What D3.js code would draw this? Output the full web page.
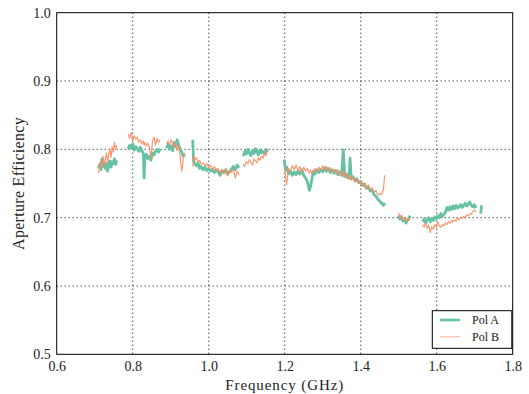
<!DOCTYPE html>
<html>
<head>
<meta charset="utf-8">
<script src="https://cdn.jsdelivr.net/npm/d3@7"></script>
<style>
  body { margin: 0; background: #fff; }
  text { font-family: "Liberation Serif", "DejaVu Serif", serif; fill: #222; }
</style>
</head>
<body>
<div id="chart"></div>
<script>
// frequency samples (GHz); a null in the series marks a gap between bands
const freq = [
  0.710,0.713,0.716,0.719,0.722,0.725,0.728,0.731,0.734,0.737,0.740,0.743,0.746,0.749,0.752,0.755,0.758, 0.770,
  0.788,0.792,0.796,0.800,0.804,0.808,0.812,0.816,0.820,0.824,0.828,0.830,0.832,0.836,0.840,0.844,0.848,0.852,0.856,0.860,0.864,0.868,0.872, 0.880,
  0.889,0.893,0.897,0.901,0.905,0.909,0.913,0.917,0.921,0.925,0.929,0.933,0.937, 0.950,
  0.958,0.960,0.964,0.968,0.972,0.976,0.980,0.985,0.990,0.995,1.000,1.005,1.010,1.015,1.020,1.025,1.030,1.035,1.040,1.045,1.050,1.055,1.060,1.065,1.070,1.075,1.080, 1.086,
  1.091,1.095,1.099,1.103,1.107,1.111,1.115,1.119,1.123,1.127,1.131,1.135,1.139,1.143,1.147,1.151,1.155, 1.180,
  1.199,1.202,1.205,1.210,1.215,1.220,1.225,1.230,1.235,1.240,
  1.245,1.250,1.255,1.260,1.265,1.268,1.272,1.276,1.280,1.285,
  1.290,1.295,1.300,1.305,1.310,1.315,1.320,1.325,1.330,1.335,
  1.340,1.345,1.350,1.354,1.358,1.362,1.366,1.370,1.372,1.375,
  1.380,1.385,1.390,1.395,1.400,1.405,1.410,1.415,1.420,1.425,
  1.430,1.435,1.440,1.445,1.450,1.455,1.460,1.463, 1.480,
  1.499,1.503,1.507,1.511,1.515,1.519,1.523,1.527,1.530, 1.545,
  1.563,1.567,1.571,1.575,1.579,1.583,1.587,1.591,1.595,1.599,
  1.603,1.607,1.611,1.615,1.619,1.623,1.627,1.631,1.635,1.639,
  1.643,1.647,1.651,1.655,1.659,1.663,1.667,1.671,1.675,1.679,
  1.683,1.687,1.691,1.695,1.699,1.703, 1.710,
  1.716,1.718
];

const polA = [
  0.772,0.778,0.770,0.786,0.775,0.781,0.772,0.779,0.768,0.777,0.783,0.774,0.782,0.779,0.786,0.778,0.784, null,
  0.800,0.806,0.802,0.808,0.799,0.804,0.801,0.797,0.803,0.798,0.794,0.758,0.790,0.793,0.786,0.790,0.784,0.795,0.792,0.797,0.800,0.796,0.801, null,
  0.802,0.807,0.800,0.805,0.798,0.810,0.804,0.814,0.806,0.800,0.796,0.790,0.793, null,
  0.814,0.784,0.778,0.776,0.780,0.772,0.775,0.770,0.774,0.769,0.772,0.768,0.771,0.766,0.770,0.767,0.762,0.769,0.766,0.770,0.764,0.768,0.771,0.775,0.770,0.777,0.773, null,
  0.790,0.797,0.793,0.800,0.795,0.791,0.798,0.794,0.801,0.796,0.792,0.799,0.795,0.797,0.793,0.800,0.796, null,
  0.785,0.770,0.774,0.764,0.768,0.762,0.767,0.763,0.768,0.764,
  0.770,0.762,0.758,0.752,0.740,0.745,0.758,0.768,0.764,0.770,
  0.766,0.771,0.767,0.773,0.768,0.772,0.766,0.770,0.765,0.769,
  0.763,0.767,0.762,0.799,0.760,0.764,0.758,0.762,0.787,0.757,
  0.760,0.754,0.757,0.751,0.753,0.747,0.749,0.743,0.745,0.739,
  0.740,0.734,0.731,0.727,0.724,0.721,0.718,0.722, null,
  0.703,0.698,0.701,0.695,0.698,0.692,0.696,0.699,0.703, null,
  0.694,0.698,0.692,0.697,0.700,0.694,0.699,0.696,0.701,0.698,
  0.703,0.700,0.706,0.702,0.705,0.708,0.715,0.711,0.716,0.712,
  0.717,0.713,0.718,0.714,0.716,0.719,0.715,0.718,0.721,0.717,
  0.720,0.723,0.718,0.716,0.719,0.714, null,
  0.706,0.718
];

const polB = [
  0.765,0.776,0.782,0.772,0.790,0.778,0.785,0.795,0.780,0.792,0.800,0.788,0.804,0.796,0.810,0.800,0.806, null,
  0.822,0.816,0.824,0.812,0.820,0.815,0.818,0.810,0.814,0.808,0.812,0.806,0.810,0.805,0.809,0.803,0.786,0.812,0.818,0.806,0.816,0.810,0.814, null,
  0.808,0.812,0.806,0.814,0.808,0.802,0.810,0.798,0.806,0.790,0.768,0.785,0.795, null,
  0.775,0.790,0.785,0.788,0.781,0.784,0.778,0.780,0.776,0.779,0.773,0.777,0.770,0.775,0.768,0.772,0.766,0.770,0.764,0.772,0.761,0.769,0.766,0.771,0.758,0.768,0.762, null,
  0.778,0.775,0.782,0.779,0.785,0.781,0.777,0.786,0.783,0.780,0.788,0.784,0.790,0.787,0.795,0.791,0.800, null,
  0.775,0.762,0.748,0.772,0.768,0.776,0.770,0.777,0.769,0.775,
  0.766,0.774,0.768,0.772,0.765,0.770,0.764,0.769,0.772,0.767,
  0.774,0.769,0.776,0.770,0.775,0.768,0.773,0.767,0.771,0.764,
  0.770,0.762,0.768,0.760,0.766,0.759,0.764,0.756,0.761,0.755,
  0.759,0.752,0.757,0.750,0.754,0.746,0.751,0.743,0.748,0.740,
  0.744,0.737,0.740,0.733,0.735,0.734,0.742,0.762, null,
  0.707,0.700,0.704,0.697,0.700,0.694,0.699,0.696,0.701, null,
  0.690,0.686,0.692,0.684,0.689,0.678,0.687,0.683,0.690,0.686,
  0.694,0.688,0.686,0.690,0.688,0.692,0.690,0.694,0.692,0.696,
  0.694,0.697,0.695,0.699,0.697,0.701,0.699,0.702,0.700,0.704,
  0.703,0.706,0.705,0.709,0.711,0.708, null,
  null,null
];

const xTicks = [0.6, 0.8, 1.0, 1.2, 1.4, 1.6, 1.8];
const yTicks = [0.5, 0.6, 0.7, 0.8, 0.9, 1.0];
const seriesNames = ["Pol A", "Pol B"];
const seriesColors = ["#66c2a5", "#fc8d62"];

const width = 529, height = 394;
const plotLeft = 56.7, plotRight = 512.7, plotTop = 12.7, plotBottom = 354.3;

const svg = d3.select("#chart")
  .append("svg")
  .attr("width", width)
  .attr("height", height);

const x = d3.scaleLinear().domain([0.6, 1.8]).range([plotLeft, plotRight]);
const y = d3.scaleLinear().domain([0.5, 1.0]).range([plotBottom, plotTop]);

// dotted grid
svg.append("g")
  .selectAll("line")
  .data(xTicks.slice(1, -1))
  .enter().append("line")
  .attr("x1", d => x(d)).attr("x2", d => x(d))
  .attr("y1", plotTop).attr("y2", plotBottom)
  .attr("stroke", "#000").attr("stroke-width", 1)
  .attr("stroke-dasharray", "1,3");

svg.append("g")
  .selectAll("line")
  .data(yTicks.slice(1, -1))
  .enter().append("line")
  .attr("x1", plotLeft).attr("x2", plotRight)
  .attr("y1", d => y(d)).attr("y2", d => y(d))
  .attr("stroke", "#000").attr("stroke-width", 1)
  .attr("stroke-dasharray", "1,3");

// series
const rows = freq.map((f, i) => ({ f: f, a: polA[i], b: polB[i] }));

const lineA = d3.line()
  .defined(d => d.a != null)
  .x(d => x(d.f)).y(d => y(d.a));
const lineB = d3.line()
  .defined(d => d.b != null)
  .x(d => x(d.f)).y(d => y(d.b));

svg.append("path")
  .datum(rows)
  .attr("d", lineA)
  .attr("fill", "none")
  .attr("stroke", seriesColors[0])
  .attr("stroke-width", 2.8)
  .attr("stroke-linejoin", "round");

svg.append("path")
  .datum(rows)
  .attr("d", lineB)
  .attr("fill", "none")
  .attr("stroke", seriesColors[1])
  .attr("stroke-width", 1.2)
  .attr("stroke-opacity", 0.9)
  .attr("stroke-linejoin", "round");

// frame
svg.append("rect")
  .attr("x", plotLeft).attr("y", plotTop)
  .attr("width", plotRight - plotLeft).attr("height", plotBottom - plotTop)
  .attr("fill", "none").attr("stroke", "#000").attr("stroke-width", 1);

// axes (labels only, no tick marks)
const xAxis = svg.append("g")
  .attr("transform", "translate(0," + plotBottom + ")")
  .call(d3.axisBottom(x).tickValues(xTicks).tickFormat(d3.format(".1f")).tickSize(0).tickPadding(7));
const yAxis = svg.append("g")
  .attr("transform", "translate(" + plotLeft + ",0)")
  .call(d3.axisLeft(y).tickValues(yTicks).tickFormat(d3.format(".1f")).tickSize(0).tickPadding(6));

[xAxis, yAxis].forEach(g => {
  g.select(".domain").remove();
  g.selectAll("text")
    .attr("font-family", "Liberation Serif, serif")
    .attr("font-size", 14)
    .attr("fill", "#222");
});

svg.append("text")
  .attr("x", (plotLeft + plotRight) / 2)
  .attr("y", 390)
  .attr("text-anchor", "middle")
  .attr("font-size", 15)
  .attr("letter-spacing", 0.9)
  .text("Frequency (GHz)");

svg.append("text")
  .attr("transform", "translate(24," + (plotTop + plotBottom) / 2 + ") rotate(-90)")
  .attr("text-anchor", "middle")
  .attr("font-size", 16)
  .attr("letter-spacing", 0.3)
  .text("Aperture Efficiency");

// legend
const legend = svg.append("g");
legend.append("rect")
  .attr("x", 432.3).attr("y", 310.7)
  .attr("width", 79.5).attr("height", 37.6)
  .attr("fill", "#fff").attr("stroke", "#000").attr("stroke-width", 1);

seriesNames.forEach((name, i) => {
  const ly = 320 + i * 16.7;
  legend.append("line")
    .attr("x1", 440).attr("x2", 460)
    .attr("y1", ly).attr("y2", ly)
    .attr("stroke", seriesColors[i])
    .attr("stroke-width", i === 0 ? 2.6 : 1.2)
    .attr("stroke-opacity", i === 0 ? 1 : 0.6);
  legend.append("text")
    .attr("x", 472).attr("y", ly + 4)
    .attr("font-size", 12)
    .text(name);
});
</script>
</body>
</html>
